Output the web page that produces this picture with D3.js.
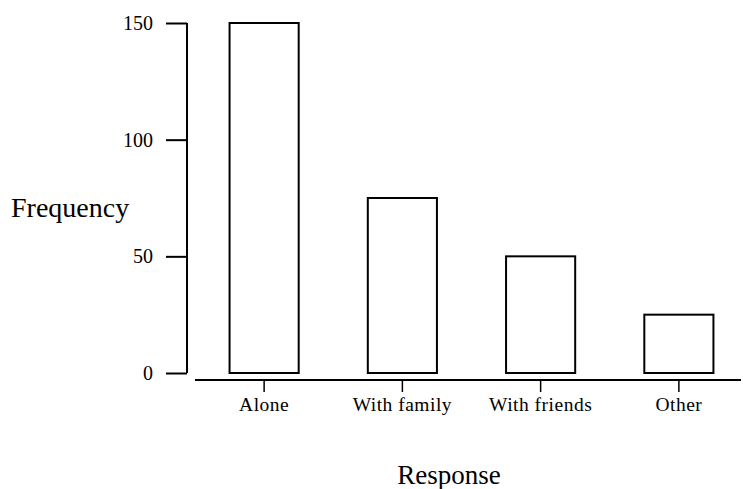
<!DOCTYPE html>
<html><head><meta charset="utf-8">
<script src="https://cdn.jsdelivr.net/npm/d3@7"></script>
<style>body{margin:0;background:#fff;} text{font-family:"Liberation Serif","Times New Roman",serif;fill:#000;}</style>
</head><body>
<svg id="c" width="743" height="489"></svg>
<script>
const categories = ["Alone", "With family", "With friends", "Other"];
const frequencies = [150, 75, 50, 25];
const yTicks = [0, 50, 100, 150];

const svg = d3.select("#c");
const x = d3.scaleBand().domain(categories).range([195, 748]).paddingInner(0.5).paddingOuter(0.25);
const y = d3.scaleLinear().domain([0, 150]).range([373, 23]);

// bars
svg.selectAll("rect.bar").data(categories).enter().append("rect")
  .attr("x", d => x(d)).attr("width", x.bandwidth())
  .attr("y", (d,i) => y(frequencies[i])).attr("height", (d,i) => y(0) - y(frequencies[i]))
  .attr("fill", "#fff").attr("stroke", "#000").attr("stroke-width", 2);

// y axis
const yAxis = d3.axisLeft(y).tickValues(yTicks).tickSize(21).tickPadding(13).tickSizeOuter(0);
const gy = svg.append("g").attr("transform", "translate(187,0)").call(yAxis);
gy.select(".domain").attr("stroke-width", 2).attr("d", `M0,${y(150)}V${y(0)}`);
gy.selectAll(".tick line").attr("stroke-width", 2);
gy.selectAll(".tick text").style("font-size", "20px").attr("font-family", null);

// x axis
const xAxis = d3.axisBottom(x).tickSize(12).tickPadding(5).tickSizeOuter(0);
const gx = svg.append("g").attr("transform", "translate(0,380)").call(xAxis);
gx.select(".domain").attr("stroke-width", 2).attr("d", "M195,0H741");
gx.selectAll(".tick line").attr("stroke-width", 1.5);
gx.selectAll(".tick text").style("font-size", "19.5px").attr("font-family", null)
  .attr("y", 31).attr("dy", null).style("letter-spacing", "0.5px");

svg.append("text").attr("x", 11).attr("y", 217).style("font-size", "28px").text("Frequency");
svg.append("text").attr("x", 449).attr("y", 484).attr("text-anchor", "middle").style("font-size", "27px").text("Response");
</script>
</body></html>
